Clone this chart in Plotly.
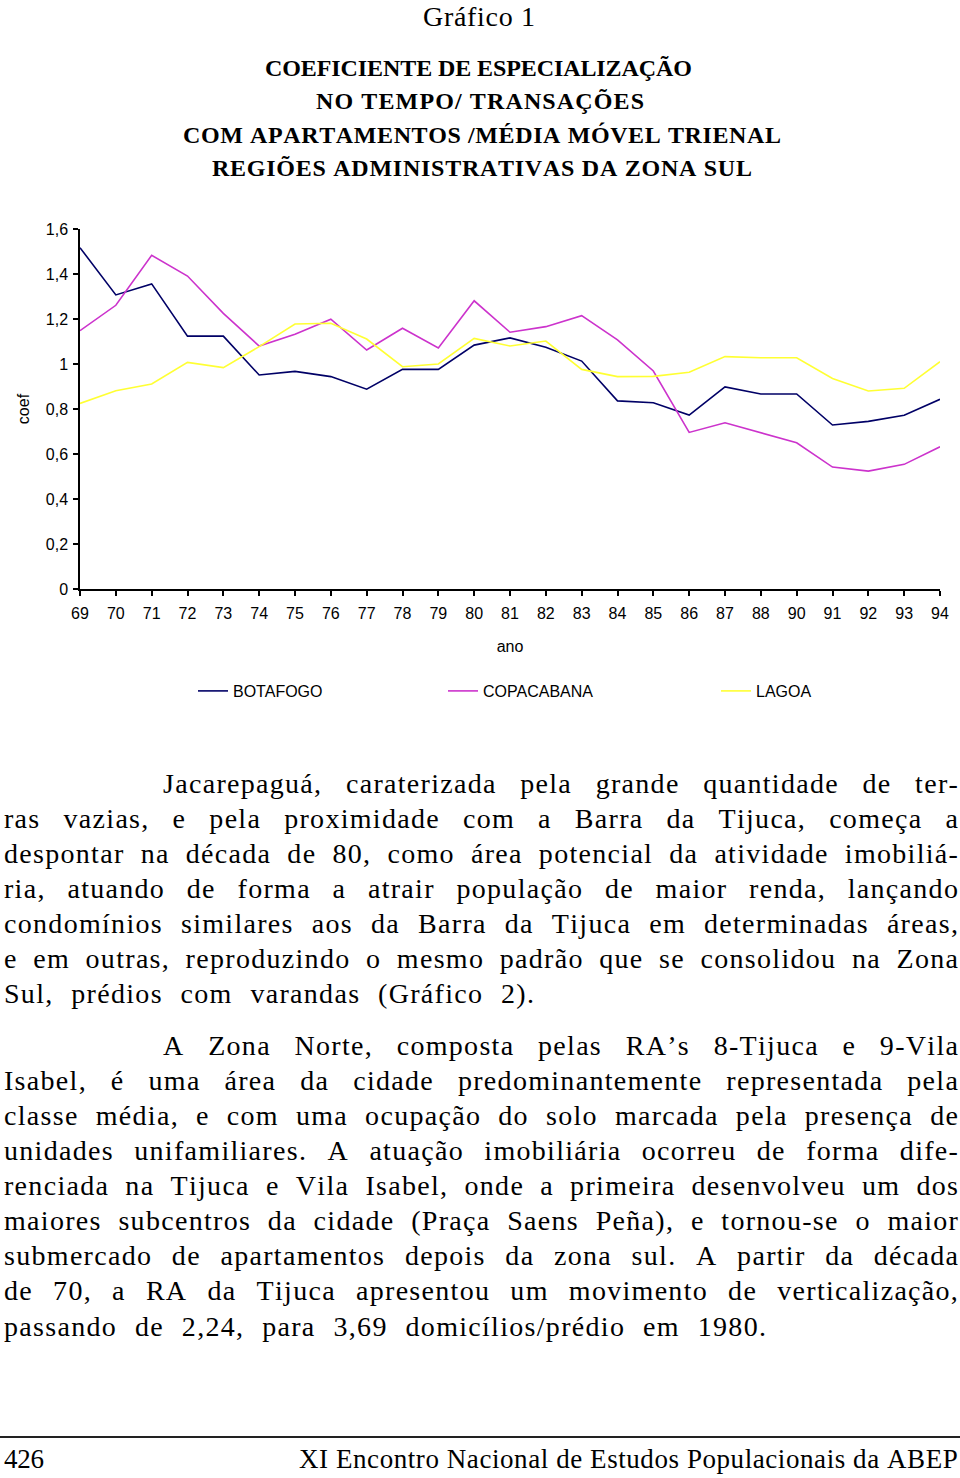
import unicodedata
import plotly.graph_objects as go

# ---------------- data ----------------
anos = ["69", "70", "71", "72", "73", "74", "75", "76", "77", "78", "79", "80",
        "81", "82", "83", "84", "85", "86", "87", "88", "90", "91", "92", "93", "94"]
botafogo = [1.517, 1.307, 1.356, 1.124, 1.124, 0.951, 0.967, 0.944, 0.888, 0.976, 0.976, 1.084,
            1.116, 1.074, 1.013, 0.836, 0.828, 0.773, 0.898, 0.867, 0.867, 0.729, 0.745, 0.772, 0.843]
copacabana = [1.148, 1.261, 1.483, 1.391, 1.225, 1.080, 1.132, 1.199, 1.062, 1.159, 1.071, 1.281,
              1.141, 1.166, 1.215, 1.107, 0.969, 0.696, 0.739, 0.695, 0.650, 0.542, 0.524, 0.554, 0.632]
lagoa = [0.825, 0.881, 0.911, 1.007, 0.984, 1.077, 1.178, 1.181, 1.111, 0.988, 1.000, 1.114,
         1.080, 1.102, 0.976, 0.944, 0.945, 0.963, 1.033, 1.028, 1.028, 0.936, 0.880, 0.892, 1.010]
series_names = ["BOTAFOGO", "COPACABANA", "LAGOA"]

titulo = "Gráfico 1"
subtitulos = ["COEFICIENTE DE ESPECIALIZAÇÃO",
              "NO TEMPO/ TRANSAÇÕES",
              "COM APARTAMENTOS /MÉDIA MÓVEL TRIENAL",
              "REGIÕES ADMINISTRATIVAS DA ZONA SUL"]
paragrafo1 = ["Jacarepaguá, caraterizada pela grande quantidade de ter-",
              "ras vazias, e pela proximidade com a Barra da Tijuca, começa a",
              "despontar na década de 80, como área potencial da atividade imobiliá-",
              "ria, atuando de forma a atrair população de maior renda, lançando",
              "condomínios similares aos da Barra da Tijuca em determinadas áreas,",
              "e em outras, reproduzindo o mesmo padrão que se consolidou na Zona",
              "Sul, prédios com varandas (Gráfico 2)."]
paragrafo2 = ["A Zona Norte, composta pelas RA’s 8-Tijuca e 9-Vila",
              "Isabel, é uma área da cidade predominantemente representada pela",
              "classe média, e com uma ocupação do solo marcada pela presença de",
              "unidades unifamiliares. A atuação imobiliária ocorreu de forma dife-",
              "renciada na Tijuca e Vila Isabel, onde a primeira desenvolveu um dos",
              "maiores subcentros da cidade (Praça Saens Peña), e tornou-se o maior",
              "submercado de apartamentos depois da zona sul. A partir da década",
              "de 70, a RA da Tijuca apresentou um movimento de verticalização,",
              "passando de 2,24, para 3,69 domicílios/prédio em 1980."]
rodape_pagina = "426"
rodape_evento = "XI Encontro Nacional de Estudos Populacionais da ABEP"

# ---------------- geometry helpers ----------------
W, H = 960, 1478
L, R, T, B = 80, 940, 229, 589


def px(x):
    return (x - L) / (R - L)


def py(y):
    return (B - y) / (B - T)


# Times / Liberation Serif advance widths (em)
TW = {' ': .25, 'a': .444, 'b': .5, 'c': .444, 'd': .5, 'e': .444, 'f': .333, 'g': .5, 'h': .5,
      'i': .278, 'j': .278, 'k': .5, 'l': .278, 'm': .778, 'n': .5, 'o': .5, 'p': .5, 'q': .5,
      'r': .333, 's': .389, 't': .278, 'u': .5, 'v': .5, 'w': .722, 'x': .5, 'y': .5, 'z': .444,
      'A': .722, 'B': .667, 'C': .667, 'D': .722, 'E': .611, 'F': .556, 'G': .722, 'H': .722,
      'I': .333, 'J': .389, 'K': .722, 'L': .611, 'M': .889, 'N': .722, 'O': .722, 'P': .556,
      'Q': .722, 'R': .667, 'S': .556, 'T': .611, 'U': .722, 'V': .722, 'W': .944, 'X': .722,
      'Y': .722, 'Z': .611, ',': .25, '.': .25, '-': .333, '(': .333, ')': .333, '’': .333,
      '/': .278, ':': .278}
TWB = {' ': .25, 'A': .722, 'B': .667, 'C': .722, 'D': .722, 'E': .667, 'F': .611, 'G': .778,
       'H': .778, 'I': .389, 'J': .5, 'K': .778, 'L': .667, 'M': .944, 'N': .722, 'O': .778,
       'P': .611, 'Q': .778, 'R': .722, 'S': .556, 'T': .667, 'U': .722, 'V': .722, 'W': 1.0,
       'X': .722, 'Y': .722, 'Z': .667, '/': .278}


def em_width(s, table):
    return sum(table.get(unicodedata.normalize('NFD', c)[0], 0.5) for c in s)


def text_line(text, left, right, yc, size, ls=None, bold=False, anchor='left'):
    table = TWB if bold else TW
    nat = em_width(text, table) * size
    n = len(text)
    nsp = text.count(' ')
    if ls is None:
        ls = (right - left - nat) / max(n - 1, 1)
        ws = 0.0
    else:
        ws = (right - left - nat - (n - 1) * ls) / nsp if nsp else 0.0
    style = f"letter-spacing:{ls:.2f}px;word-spacing:{ws:.2f}px;font-kerning:none"
    if anchor == 'left':
        x = px(left)
    else:
        x = px((left + right) / 2)
    return dict(text=f'<span style="{style}">{text}</span>', x=x, y=py(yc),
                xref='paper', yref='paper', xanchor=anchor, yanchor='middle',
                align='left', showarrow=False, borderpad=0,
                font=dict(family='Liberation Serif', size=size, color='black',
                          weight='bold' if bold else 'normal'))


# ---------------- figure ----------------
fig = go.Figure()
cores = ['#000066', '#CC33CC', '#FFFF33']
legs = ['legend', 'legend2', 'legend3']
for nome, vals, cor, lg in zip(series_names, [botafogo, copacabana, lagoa], cores, legs):
    fig.add_trace(go.Scatter(x=anos, y=vals, mode='lines', name=nome,
                             line=dict(color=cor, width=1.6), legend=lg,
                             hoverinfo='skip'))

annotations = []
annotations.append(text_line(titulo, 423, 535, 16, 28, anchor='center'))
sub_spans = [(265, 692, 68), (316, 644, 101), (183, 781, 135), (212, 752, 168)]
for txt, (a, b, yc) in zip(subtitulos, sub_spans):
    annotations.append(text_line(txt, a, b, yc, 24, bold=True, anchor='center'))

body_size = 28
body_ls = 1.3
y1 = [783, 818, 853, 888, 923, 958, 993]
ends1 = [957] * 6 + [533]
for i, (txt, yc, e) in enumerate(zip(paragrafo1, y1, ends1)):
    left = 162 if i == 0 else 3
    annotations.append(text_line(txt, left, e, yc, body_size, ls=body_ls))
y2 = [1045, 1080, 1115, 1150, 1185, 1220, 1255, 1290, 1326]
ends2 = [957] * 8 + [765]
for i, (txt, yc, e) in enumerate(zip(paragrafo2, y2, ends2)):
    left = 162 if i == 0 else 3
    annotations.append(text_line(txt, left, e, yc, body_size, ls=body_ls))

annotations.append(text_line(rodape_pagina, 3, 43, 1459, 27))
annotations.append(text_line(rodape_evento, 298, 957, 1459, 27))

leg_common = dict(orientation='h', xanchor='left', yanchor='middle', y=py(691),
                  xref='paper', yref='paper', bgcolor='rgba(0,0,0,0)', borderwidth=0,
                  font=dict(family='Liberation Sans', size=16, color='black'), itemwidth=30)

fig.update_layout(
    width=W, height=H,
    margin=dict(l=L, r=W - R, t=T, b=H - B, pad=0),
    paper_bgcolor='white', plot_bgcolor='white',
    separators=',.',
    showlegend=True,
    legend=dict(x=px(193), **leg_common),
    legend2=dict(x=px(443), **leg_common),
    legend3=dict(x=px(716), **leg_common),
    annotations=annotations,
    shapes=[dict(type='line', xref='paper', yref='paper', x0=px(0), x1=px(960),
                 y0=py(1437), y1=py(1437), line=dict(color='#222222', width=2))],
    xaxis=dict(type='category', categoryorder='array', categoryarray=anos,
               range=[0, len(anos) - 1], showline=True, linecolor='black', linewidth=1.5,
               ticks='outside', ticklen=5, tickcolor='black', tickwidth=1.5,
               showgrid=False, zeroline=False, ticklabelstandoff=4,
               tickfont=dict(family='Liberation Sans', size=16, color='black'),
               title=dict(text='ano', standoff=20,
                          font=dict(family='Liberation Sans', size=16, color='black'))),
    yaxis=dict(range=[0, 1.6], tick0=0, dtick=0.2, showline=True, linecolor='black',
               linewidth=1.5, ticks='outside', ticklen=5, tickcolor='black', tickwidth=1.5,
               showgrid=False, zeroline=False, ticklabelstandoff=2,
               tickfont=dict(family='Liberation Sans', size=16, color='black'),
               title=dict(text='coef', standoff=12,
                          font=dict(family='Liberation Sans', size=16, color='black'))),
)

fig.write_html("out.html", config={'displayModeBar': False},
               post_script="document.body.style.margin='0px';")
